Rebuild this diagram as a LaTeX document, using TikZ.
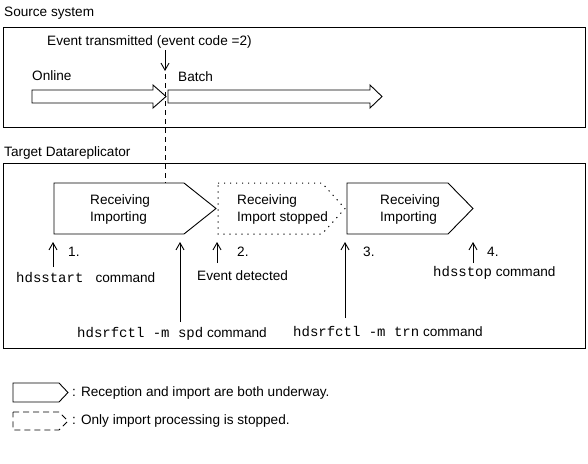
\documentclass[tikz,border=0pt]{standalone}
\usepackage{fontspec}
\setmainfont{Liberation Sans}
\setmonofont{Liberation Mono}
\usetikzlibrary{arrows.meta}
\newcommand{\cmdtt}[1]{{\fontsize{14}{16}\selectfont\ttfamily #1}}

\begin{document}
\begin{tikzpicture}[x=1pt,y=-1pt]
	\tikzstyle{every node}+=[inner sep=0pt, anchor=west, font=\fontsize{13.6}{17}\selectfont]
	\tikzstyle{recvbox}=[draw=black, line width=0.9pt]
	\tikzstyle{stopbox}=[draw=black, line width=1pt, dash pattern=on 1.2pt off 4.8pt]
	\tikzstyle{legstop}=[draw=black, line width=0.9pt, dash pattern=on 6pt off 4pt]
	\tikzstyle{ptr}=[draw=black, line width=0.9pt, -{Straight Barb[length=7pt,width=8pt]}]
	\useasboundingbox (0,0) rectangle (588,463);
	\node (srclbl) at (4,13) {Source system};
	\draw [black, line width=0.9pt] (3,27) rectangle (585,127);
	\node (evtlbl) at (47,42) {Event transmitted (event code =2)};
	\node (online) at (32,76) {Online};
	\node (batch) at (178,77) {Batch};
	\draw [recvbox] (32,90) -- (153,90) -- (153,85) -- (166,96.5) -- (153,108) -- (153,103) -- (32,103) -- cycle;
	\draw [recvbox] (168,90) -- (370,90) -- (370,85) -- (382,96.5) -- (370,108) -- (370,103) -- (168,103) -- cycle;
	\coordinate (evtop) at (165,50);
	\coordinate (evtip) at (165,71);
	\coordinate (p1top) at (165,183);
	\draw [ptr] (evtop) -- (evtip);
	\draw [black, line width=0.9pt, dash pattern=on 5pt off 4pt] (evtip) ++(0,3) -- (p1top);
	\node (tgtlbl) at (4,153) {Target Datareplicator};
	\draw [black, line width=0.9pt] (3,163) rectangle (585,348);
	\draw [recvbox] (54,183) -- (184,183) -- (216,208.5) -- (184,234) -- (54,234) -- cycle;
	\node (p1txt) [align=left] at (90,209.5) {Receiving\\Importing};
	\draw [stopbox] (218,183) -- (322,183) -- (345,208.5) -- (322,234) -- (218,234) -- cycle;
	\node (p2txt) [align=left] at (237,209.5) {Receiving\\Import stopped};
	\draw [recvbox] (347,183) -- (448,183) -- (473,208.5) -- (448,234) -- (347,234) -- cycle;
	\node (p3txt) [align=left] at (380,209.5) {Receiving\\Importing};
	\coordinate (a1s) at (53,267);
	\coordinate (a1e) at (53,242);
	\coordinate (spds) at (180,322);
	\coordinate (spde) at (180,242);
	\coordinate (a2s) at (217,263);
	\coordinate (a2e) at (217,242);
	\coordinate (a3s) at (345,318);
	\coordinate (a3e) at (345,242);
	\coordinate (a4s) at (473,263);
	\coordinate (a4e) at (473,242);
	\draw [ptr] (a1s) -- (a1e);
	\draw [ptr] (spds) -- (spde);
	\draw [ptr] (a2s) -- (a2e);
	\draw [ptr] (a3s) -- (a3e);
	\draw [ptr] (a4s) -- (a4e);
	\node (n1) at (68,252) {1.};
	\node (n2) at (237,252) {2.};
	\node (n3) at (363,252) {3.};
	\node (n4) at (487,252) {4.};
	\node (startcmd) at (16,278) {\cmdtt{hdsstart\ } command};
	\node (evdet) at (197,276) {Event detected};
	\node (stopcmd) at (433,273) {\cmdtt{hdsstop} command};
	\node (spdcmd) at (77,334) {\cmdtt{hdsrfctl -m spd} command};
	\node (trncmd) at (293,332) {\cmdtt{hdsrfctl -m trn} command};
	\draw [recvbox] (13,383) -- (59,383) -- (68,392.5) -- (59,402) -- (13,402) -- cycle;
	\node (legrecv) at (72,392.5) {: Reception and import are both underway.};
	\draw [legstop] (13,412) -- (59,412) -- (68,421) -- (59,430) -- (13,430) -- cycle;
	\node (legstop) at (72,421) {: Only import processing is stopped.};
\end{tikzpicture}
\end{document}
